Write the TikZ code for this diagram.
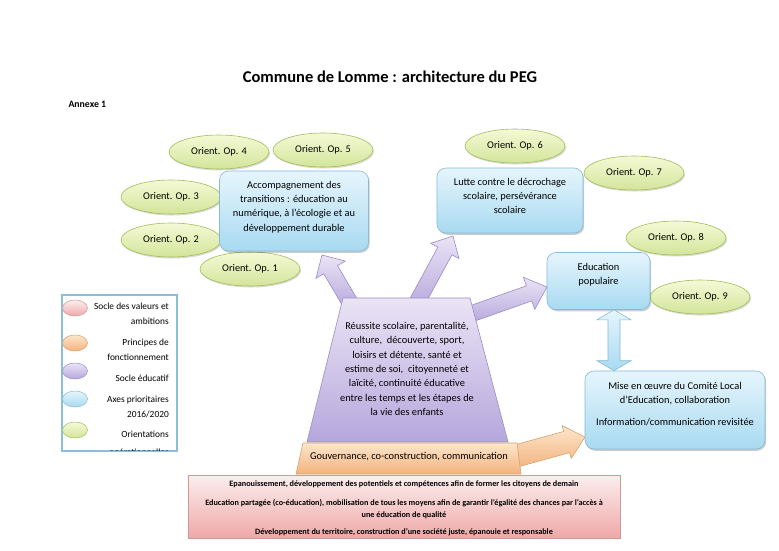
\documentclass[tikz,border=0pt]{standalone}
\usepackage{fontspec}
\setmainfont{Carlito}
\usetikzlibrary{calc,shapes.geometric,shadows}
\definecolor{gBd}{HTML}{A2BE58}
\definecolor{gTop}{HTML}{F5F9D6}
\definecolor{gBot}{HTML}{D3E59A}
\definecolor{bBd}{HTML}{86BAD6}
\definecolor{bTop}{HTML}{E6F5FC}
\definecolor{bBot}{HTML}{A8DAF1}
\definecolor{pBd}{HTML}{9A8CC8}
\definecolor{pTop}{HTML}{EAE4F5}
\definecolor{pBot}{HTML}{B6A7DC}
\definecolor{oBd}{HTML}{D7A26E}
\definecolor{oTop}{HTML}{FDE6CC}
\definecolor{oBot}{HTML}{F3B27D}
\definecolor{rBd}{HTML}{D09898}
\definecolor{rTop}{HTML}{FCEEEE}
\definecolor{rBot}{HTML}{EFA8A8}
\definecolor{lgBd}{HTML}{8DBED8}
\newcommand\blockarr[6]{%
  \path ($(#2)!#5!(#1)$) coordinate (hb);
  \draw[#6] ($(#1)!#3!90:(#2)$) -- ($(hb)!#3!90:(#2)$) -- ($(hb)!#4!90:(#2)$) -- (#2)
    -- ($(hb)!#4!-90:(#2)$) -- ($(hb)!#3!-90:(#2)$) -- ($(#1)!#3!-90:(#2)$) -- cycle;}
\begin{document}
\begin{tikzpicture}[x=1pt,y=-1pt,
  orient/.style={ellipse, draw=gBd, line width=0.6pt, top color=gTop, bottom color=gBot,
    minimum width=100pt, minimum height=34pt, inner sep=0pt, font=\fontsize{10.3}{12}\selectfont,
    drop shadow={shadow xshift=1pt, shadow yshift=-1.5pt, opacity=0.15, fill=black}},
  axe/.style={draw=bBd, line width=0.6pt, rounded corners=9pt, top color=bTop, bottom color=bBot,
    inner sep=0pt,
    drop shadow={shadow xshift=1.2pt, shadow yshift=-1.8pt, opacity=0.2, fill=black}},
  txt/.style={align=center, inner sep=0pt, font=\fontsize{10.4}{14.3}\selectfont},
  purparr/.style={draw=pBd, line width=0.6pt, top color=pTop, bottom color=pBot},
  legtxt/.style={anchor=east, align=right, inner sep=0pt, font=\fontsize{9.4}{15}\selectfont},
  legell/.style={ellipse, draw=#1Bd, line width=0.5pt, top color=#1Top, bottom color=#1Bot,
    minimum width=25pt, minimum height=16pt, inner sep=0pt},
  valtxt/.style={align=center, inner sep=0pt, font=\bfseries\fontsize{8.2}{12}\selectfont},
  ]
\useasboundingbox[fill=white] (0,0) rectangle (779,550);

% title
\node[font=\bfseries\fontsize{16.5}{19}\selectfont] (title) at (390,77) {Commune de Lomme : architecture du PEG};
\node[anchor=west, font=\bfseries\fontsize{9.8}{11}\selectfont] (annexe) at (65,104) {Annexe 1};

% orientation ellipses
\node[orient] (op4) at (219,152) {Orient. Op. 4};
\node[orient] (op5) at (323,150) {Orient. Op. 5};
\node[orient] (op3) at (171,197) {Orient. Op. 3};
\node[orient] (op2) at (171,240) {Orient. Op. 2};
\node[orient] (op1) at (250,269) {Orient. Op. 1};
\node[orient] (op6) at (515,146) {Orient. Op. 6};
\node[orient] (op7) at (634,173) {Orient. Op. 7};
\node[orient] (op8) at (676,238) {Orient. Op. 8};
\node[orient] (op9) at (700,297) {Orient. Op. 9};

% axes boxes
\node[axe, minimum width=149pt, minimum height=80pt] (acc) at (294,211) {};
\node[txt] (acct) at (294,207) {Accompagnement des\\transitions : éducation au\\numérique, à l’écologie et au\\développement durable};
\node[axe, minimum width=146pt, minimum height=65pt] (lut) at (510,200.5) {};
\node[txt] (lutt) at (510,196) {Lutte contre le décrochage\\scolaire, persévérance\\scolaire};
\node[axe, minimum width=103pt, minimum height=57pt] (edu) at (598.5,281) {};
\node[txt] (edut) at (598.5,275) {Education\\populaire};
\node[axe, minimum width=180pt, minimum height=78pt] (mis) at (675,410) {};
\node[txt] (mist) at (675,404) {Mise en œuvre du Comité Local\\d’Education, collaboration\\[7pt]Information/communication revisitée};

% connectors (block arrows)
\coordinate (a1s) at (352,306);
\coordinate (a1e) at (322,255);
\coordinate (a2s) at (415,306);
\coordinate (a2e) at (453,236);
\coordinate (a3s) at (465,316);
\coordinate (a3e) at (547,287);
\coordinate (a4s) at (505,459);
\coordinate (a4e) at (585,437);
\blockarr{a1s}{a1e}{8pt}{17pt}{17pt}{purparr}
\blockarr{a2s}{a2e}{8pt}{16pt}{17pt}{purparr}
\blockarr{a3s}{a3e}{8pt}{17pt}{19pt}{purparr}
\blockarr{a4s}{a4e}{11pt}{17pt}{19pt}{draw=oBd, line width=0.6pt, top color=oTop, bottom color=oBot}

% double arrow between Education populaire and Mise en oeuvre
\coordinate (d1) at (edu.south -| 614,0);
\coordinate (d2) at (mis.north -| 614,0);
\draw[draw=bBd, line width=0.6pt, top color=bTop, bottom color=bBot]
  (d1) -- ($(d1)+(17,10)$) -- ($(d1)+(6,10)$) -- ($(d2)+(6,-10)$) -- ($(d2)+(17,-10)$)
  -- (d2) -- ($(d2)+(-17,-10)$) -- ($(d2)+(-6,-10)$) -- ($(d1)+(-6,10)$) -- ($(d1)+(-17,10)$) -- cycle;

% socle educatif (trapezoid)
\draw[draw=pBd, line width=0.6pt, top color=pTop, bottom color=pBot]
  (343,298) -- (470,298) -- (508,442) -- (307,442) -- cycle;
\node[txt] (soc) at (407,369) {Réussite scolaire, parentalité,\\culture,\ \ découverte, sport,\\loisirs et détente, santé et\\estime de soi,\ \ citoyenneté et\\laïcité, continuité éducative\\entre les temps et les étapes de\\la vie des enfants};

% principes de fonctionnement
\draw[draw=oBd, line width=0.6pt, top color=oTop, bottom color=oBot]
  (303,443) -- (517,443) -- (521,474) -- (296,474) -- cycle;
\node[txt] (gouv) at (409,457) {Gouvernance, co-construction, communication};

% socle des valeurs
\draw[draw=rBd, line width=0.6pt, top color=rTop, bottom color=rBot] (188,475) rectangle (620,538);
\node[valtxt] (val1) at (404,484) {Epanouissement, développement des potentiels et compétences afin de former les citoyens de demain};
\node[valtxt] (val2) at (404,509) {Education partagée (co-éducation), mobilisation de tous les moyens afin de garantir l’égalité des chances par l’accès à\\une éducation de qualité};
\node[valtxt] (val3) at (404,532) {Développement du territoire, construction d’une société juste, épanouie et responsable};

% legend
\draw[draw=lgBd, line width=1.1pt, fill=white] (62,295) rectangle (177,451);
\node[legell=r] (lg1) at (75,308) {};
\node[legell=o] (lg2) at (75,343) {};
\node[legell=p] (lg3) at (75,371) {};
\node[legell=b] (lg4) at (75,399) {};
\node[legell=g] (lg5) at (75,430) {};
\node[legtxt] (lt1) at (169,313.5) {Socle des valeurs et\\ambitions};
\node[legtxt] (lt2) at (169,349.5) {Principes de\\fonctionnement};
\node[legtxt] (lt3) at (169,378) {Socle éducatif};
\node[legtxt] (lt4) at (169,406.5) {Axes prioritaires\\2016/2020};
\begin{scope}
\clip (63,296) rectangle (176,450);
\node[legtxt] (lt5) at (169,443.5) {Orientations\\[3pt]opérationnelles};
\end{scope}
\end{tikzpicture}
\end{document}
